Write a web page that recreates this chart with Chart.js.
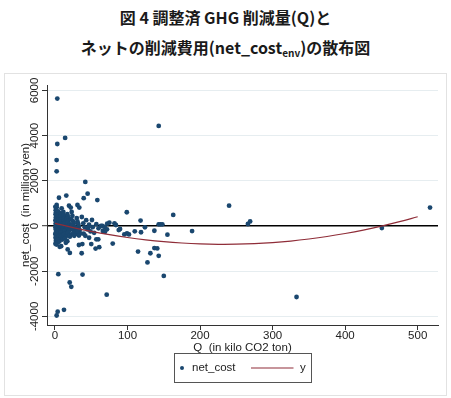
<!DOCTYPE html>
<html>
<head>
<meta charset="utf-8">
<script src="https://cdn.jsdelivr.net/npm/chart.js@4.4.7/dist/chart.umd.min.js"></script>
<style>
  body { margin: 0; background: #fff; }
  #wrap { position: relative; width: 451px; height: 398px; overflow: hidden; }
  #panel { position: absolute; left: 4px; top: 73px; width: 441px; height: 321px; border: 1px solid #e2e2e2; }
  .title { position: absolute; left: 0; width: 451px; text-align: center; line-height: 20px;
           font-family: "Noto Sans CJK JP"; font-weight: bold; font-size: 16px; color: #1a1a1a; }
  .title sub { font-size: 10px; vertical-align: -3px; line-height: 0; }
  canvas { position: absolute; left: 0; top: 0; }
</style>
</head>
<body>
<div id="wrap">
  <div class="title" style="top:7px">図 4 調整済 GHG 削減量(Q)と</div>
  <div class="title" style="top:37px">ネットの削減費用(net_cost<sub>env</sub>)の散布図</div>
  <div id="panel"></div>
  <canvas id="chart" width="451" height="398"></canvas>
</div>
<script>
// scatter: Q (kilo CO2 ton) and net cost (million yen)
const qValues = [
  3.2, 14, 3.2, 2.3, 2.3, 41.8, 45, 39.6, 15.6, 5.5, 58.4, 2.3, 2.3, 19.3, 21.7, 9.2, 31, 33.5,
  143, 99, 163, 240, 266, 269, 517, 450.6, 118, 143, 145.5, 148, 137, 155, 189, 124, 110, 118.6, 95.6, 99.3, 102, 87.9, 89.7, 75, 72, 82, 84, 63.4, 65.3, 68.6, 71.7, 66, 69, 51, 47, 46,
  4.6, 38, 20.3, 22.5, 71.3, 150, 12.4, 3.7, 2.3, 333, 114.5, 127.5, 131.5, 137, 141, 143, 79.6, 36.8, 33, 50, 56, 61, 20.5, 17.5, 8.5, 6.5, 15, 17, 57, 59.7, 47, 41.8, 39.6, 37.7,
  0.5, 1, 1.5, 0.8, 2, 1.2, 2.5, 0.6, 1.8, 3, 0.9, 2.2, 1.4, 3.5, 0.7, 2.8, 1.1, 4, 1.6, 2.4, 0.4, 3.2, 1.9, 0.8, 2.6, 1.3, 3.8, 0.6, 2,
  4.5, 5, 4.2, 5.5, 4.8, 6, 5.2, 4.4, 6.5, 5.8, 4.6, 6.2, 5.1, 7, 4.9, 6.8, 5.4, 7.5, 4.3, 6.1,
  7.5, 8, 9, 7.8, 8.5, 9.5, 8.2, 10, 7.2, 9.2, 8.8, 10.5, 7.9, 9.7, 8.4, 11, 10.2,
  11.5, 12, 13, 11.8, 12.5, 14, 13.5, 12.2, 15, 11.3, 14.5, 13.2, 16, 12.8, 15.5, 14,
  17, 18, 16.5, 19, 17.5, 20, 18.5, 16.8, 21, 19.5, 17.8, 22, 20.5,
  23, 24, 22.5, 25, 26, 23.5, 27, 24.5, 28, 25.5, 29, 26.5,
  30, 31, 32, 33, 30.5, 34, 31.5, 35, 33,
  37, 39, 41, 43, 45, 49, 52, 54, 57, 60
];
const costValues = [
  5640, 3900, 3630, 2920, 2420, 1950, 1430, 1230, 1345, 1250, 1150, 930, 830, 900, 815, 785, 930, 815,
  4430, 610, 490, 900, 90, 205, 815, -90, 240, 75, 75, 75, -210, -385, -222, -60, -236, -275, -370, -330, -370, -178, -133, 147, 102, 120, 44, 0, 0, -44, -147, -220, -253, 267, 60, -60,
  -2133, -2148, -2500, -2690, -3036, -2209, -3710, -3791, -3960, -3140, -1130, -1610, -1205, -975, -990, -1320, -775, -1205, -840, -800, -1000, -935, -1190, -1036, -890, -920, -740, -670, -590, -591, -520, -431, -342, -800,
  850, 700, 600, 520, 450, 380, 300, 250, 200, 150, 100, 60, 20, -20, -60, -100, -150, -200, -250, -300, -350, -400, -450, -520, -580, -650, -720, -780, -820,
  650, 500, 420, 350, 280, 220, 160, 90, 40, -10, -70, -130, -190, -260, -330, -390, -470, -540, -610, -690,
  560, 430, 330, 260, 190, 120, 60, 10, -40, -110, -180, -240, -310, -380, -450, -520, -600,
  620, 480, 380, 300, 230, 170, 90, 30, -30, -90, -150, -220, -290, -360, -440, -560,
  520, 400, 320, 250, 150, 80, -10, -70, -140, -210, -300, -380, -470,
  620, 450, 300, 200, 110, 40, -50, -120, -200, -280, -350, -430,
  350, 200, 90, -20, -110, -180, -260, -330, -420,
  400, 120, -60, 260, -150, -240, -50, -300, 80, -100
];

// fitted curve "y"
const fitQ = [0, 25, 50, 75, 100, 125, 150, 175, 200, 225, 250, 275, 300, 325, 350, 375, 400, 425, 450, 475, 500];
const fitY = [120, -69, -236, -382, -507, -610, -692, -752, -791, -809, -805, -780, -733, -665, -575, -465, -332, -179, -3, 193, 411];

const xTicks = [0, 100, 200, 300, 400, 500];
const yTicks = [-4000, -2000, 0, 2000, 4000, 6000];

const sansFont = { family: 'Liberation Sans', size: 11.5 };
const axisColor = '#333';

const legendBox = {
  id: 'legendBox',
  afterDraw(chart) {
    const ctx = chart.ctx;
    const area = chart.chartArea;
    const w = 137, h = 29;
    const left = Math.round((area.left + area.right) / 2 - w / 2) + 0.5;
    const top = 353.5;
    const my = top + h / 2;
    const dots = chart.data.datasets[1];
    const fit = chart.data.datasets[0];
    ctx.save();
    ctx.strokeStyle = '#555';
    ctx.lineWidth = 1;
    ctx.strokeRect(left, top, w, h);
    ctx.fillStyle = dots.backgroundColor;
    ctx.beginPath();
    ctx.arc(left + 7.5, my, 2, 0, Math.PI * 2);
    ctx.fill();
    ctx.font = '11.5px "Liberation Sans"';
    ctx.fillStyle = '#222';
    ctx.textBaseline = 'middle';
    ctx.fillText(dots.label, left + 17.5, my);
    ctx.strokeStyle = fit.borderColor;
    ctx.lineWidth = 1.2;
    ctx.beginPath();
    ctx.moveTo(left + 76.5, my);
    ctx.lineTo(left + 119, my);
    ctx.stroke();
    ctx.fillText(fit.label, left + 125.5, my);
    ctx.restore();
  }
};

new Chart(document.getElementById('chart'), {
  type: 'scatter',
  data: {
    datasets: [
      {
        type: 'line',
        label: 'y',
        data: fitQ.map((q, i) => ({ x: q, y: fitY[i] })),
        borderColor: '#8f2d38',
        borderWidth: 1.2,
        pointRadius: 0,
        tension: 0.4,
        fill: false,
        order: 0
      },
      {
        label: 'net_cost',
        data: qValues.map((q, i) => ({ x: q, y: costValues[i] })),
        backgroundColor: '#1a476f',
        borderWidth: 0,
        pointRadius: 2.4,
        order: 1
      }
    ]
  },
  options: {
    responsive: false,
    animation: false,
    layout: { padding: { top: 85, right: 13, bottom: 43, left: 0 } },
    plugins: { legend: { display: false }, tooltip: { enabled: false } },
    scales: {
      x: {
        type: 'linear',
        min: -11,
        max: 528,
        afterBuildTicks: s => { s.ticks = xTicks.map(v => ({ value: v })); },
        afterFit: s => { s.height = 30; },
        grid: { drawOnChartArea: false, tickLength: 5, tickColor: axisColor },
        border: { color: axisColor, width: 1 },
        ticks: { font: sansFont, color: '#222', padding: -1, maxRotation: 0, callback: v => String(v) },
        title: { display: true, text: 'Q  (in kilo CO2 ton)', font: sansFont, color: '#222', padding: 0 }
      },
      y: {
        min: -4380,
        max: 6240,
        afterBuildTicks: s => { s.ticks = yTicks.map(v => ({ value: v })); },
        afterFit: s => { s.width = 47; },
        grid: {
          color: c => (c.tick && c.tick.value === 0 ? '#000' : '#e6edf0'),
          lineWidth: c => (c.tick && c.tick.value === 0 ? 1.4 : 1),
          tickLength: 5,
          tickColor: axisColor,
          tickWidth: 1
        },
        border: { color: axisColor, width: 1 },
        ticks: { font: sansFont, color: '#222', minRotation: 90, maxRotation: 90, crossAlign: 'center', padding: -8, callback: v => String(v) },
        title: { display: true, text: 'net_cost  (in million yen)', font: sansFont, color: '#222', padding: { top: 19, bottom: 0 } }
      }
    }
  },
  plugins: [legendBox]
});
</script>
</body>
</html>
